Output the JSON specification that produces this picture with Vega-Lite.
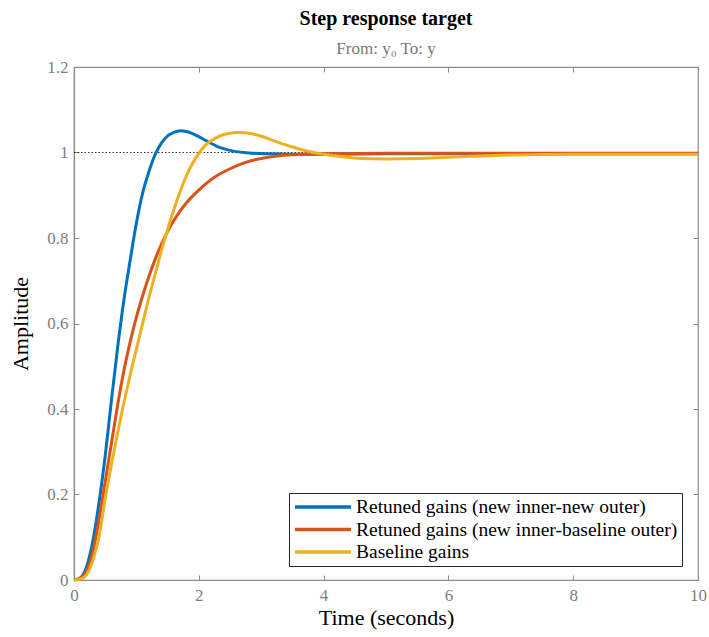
{
  "$schema": "https://vega.github.io/schema/vega-lite/v6.json",
  "width": 624,
  "height": 513,
  "autosize": "none",
  "padding": {"left": 74, "top": 67, "right": 11, "bottom": 57},
  "background": "white",
  "title": {
    "text": "Step response target",
    "subtitle": "From: y₀ To: y",
    "anchor": "middle",
    "font": "Liberation Serif",
    "fontSize": 20,
    "fontWeight": "bold",
    "color": "#000000",
    "subtitleFont": "Liberation Serif",
    "subtitleFontSize": 17,
    "subtitleColor": "#7a7a7a",
    "subtitlePadding": 12,
    "offset": 1
  },
  "config": {
    "view": {"stroke": "#8c8c8c", "strokeWidth": 1.2},
    "axis": {
      "labelFont": "Liberation Serif",
      "labelFontSize": 17,
      "labelColor": "#808080",
      "titleFont": "Liberation Serif",
      "titleFontSize": 22,
      "titleFontWeight": "normal",
      "titleColor": "#000000",
      "domainColor": "#8c8c8c",
      "domainWidth": 1.2,
      "tickColor": "#8c8c8c",
      "gridColor": "#e3e3e3",
      "gridWidth": 1
    }
  },
  "datasets": {
    "steps": [
      {"series": "Retuned gains (new inner-new outer)", "t": 0, "y": 0},
      {"series": "Retuned gains (new inner-new outer)", "t": 0.1, "y": 0.005},
      {"series": "Retuned gains (new inner-new outer)", "t": 0.2, "y": 0.03},
      {"series": "Retuned gains (new inner-new outer)", "t": 0.3, "y": 0.09},
      {"series": "Retuned gains (new inner-new outer)", "t": 0.4, "y": 0.18},
      {"series": "Retuned gains (new inner-new outer)", "t": 0.5, "y": 0.29},
      {"series": "Retuned gains (new inner-new outer)", "t": 0.6, "y": 0.42},
      {"series": "Retuned gains (new inner-new outer)", "t": 0.7, "y": 0.545},
      {"series": "Retuned gains (new inner-new outer)", "t": 0.8, "y": 0.655},
      {"series": "Retuned gains (new inner-new outer)", "t": 0.9, "y": 0.748},
      {"series": "Retuned gains (new inner-new outer)", "t": 1.0, "y": 0.835},
      {"series": "Retuned gains (new inner-new outer)", "t": 1.1, "y": 0.905},
      {"series": "Retuned gains (new inner-new outer)", "t": 1.2, "y": 0.955},
      {"series": "Retuned gains (new inner-new outer)", "t": 1.3, "y": 0.995},
      {"series": "Retuned gains (new inner-new outer)", "t": 1.4, "y": 1.022},
      {"series": "Retuned gains (new inner-new outer)", "t": 1.5, "y": 1.039},
      {"series": "Retuned gains (new inner-new outer)", "t": 1.6, "y": 1.047},
      {"series": "Retuned gains (new inner-new outer)", "t": 1.7, "y": 1.051},
      {"series": "Retuned gains (new inner-new outer)", "t": 1.8, "y": 1.049},
      {"series": "Retuned gains (new inner-new outer)", "t": 1.9, "y": 1.044},
      {"series": "Retuned gains (new inner-new outer)", "t": 2.0, "y": 1.037},
      {"series": "Retuned gains (new inner-new outer)", "t": 2.1, "y": 1.029},
      {"series": "Retuned gains (new inner-new outer)", "t": 2.2, "y": 1.021},
      {"series": "Retuned gains (new inner-new outer)", "t": 2.3, "y": 1.014},
      {"series": "Retuned gains (new inner-new outer)", "t": 2.4, "y": 1.009},
      {"series": "Retuned gains (new inner-new outer)", "t": 2.5, "y": 1.005},
      {"series": "Retuned gains (new inner-new outer)", "t": 2.6, "y": 1.002},
      {"series": "Retuned gains (new inner-new outer)", "t": 2.8, "y": 0.999},
      {"series": "Retuned gains (new inner-new outer)", "t": 3.1, "y": 0.997},
      {"series": "Retuned gains (new inner-new outer)", "t": 3.5, "y": 0.996},
      {"series": "Retuned gains (new inner-new outer)", "t": 4.0, "y": 0.996},
      {"series": "Retuned gains (new inner-new outer)", "t": 5.0, "y": 0.997},
      {"series": "Retuned gains (new inner-new outer)", "t": 6.0, "y": 0.997},
      {"series": "Retuned gains (new inner-new outer)", "t": 8.0, "y": 0.997},
      {"series": "Retuned gains (new inner-new outer)", "t": 10.0, "y": 0.997},
      {"series": "Retuned gains (new inner-baseline outer)", "t": 0, "y": 0},
      {"series": "Retuned gains (new inner-baseline outer)", "t": 0.1, "y": 0.004},
      {"series": "Retuned gains (new inner-baseline outer)", "t": 0.2, "y": 0.02},
      {"series": "Retuned gains (new inner-baseline outer)", "t": 0.3, "y": 0.065},
      {"series": "Retuned gains (new inner-baseline outer)", "t": 0.4, "y": 0.14},
      {"series": "Retuned gains (new inner-baseline outer)", "t": 0.5, "y": 0.23},
      {"series": "Retuned gains (new inner-baseline outer)", "t": 0.6, "y": 0.32},
      {"series": "Retuned gains (new inner-baseline outer)", "t": 0.7, "y": 0.41},
      {"series": "Retuned gains (new inner-baseline outer)", "t": 0.8, "y": 0.49},
      {"series": "Retuned gains (new inner-baseline outer)", "t": 0.9, "y": 0.557},
      {"series": "Retuned gains (new inner-baseline outer)", "t": 1.0, "y": 0.615},
      {"series": "Retuned gains (new inner-baseline outer)", "t": 1.1, "y": 0.665},
      {"series": "Retuned gains (new inner-baseline outer)", "t": 1.2, "y": 0.71},
      {"series": "Retuned gains (new inner-baseline outer)", "t": 1.3, "y": 0.75},
      {"series": "Retuned gains (new inner-baseline outer)", "t": 1.4, "y": 0.785},
      {"series": "Retuned gains (new inner-baseline outer)", "t": 1.5, "y": 0.815},
      {"series": "Retuned gains (new inner-baseline outer)", "t": 1.6, "y": 0.841},
      {"series": "Retuned gains (new inner-baseline outer)", "t": 1.7, "y": 0.863},
      {"series": "Retuned gains (new inner-baseline outer)", "t": 1.8, "y": 0.882},
      {"series": "Retuned gains (new inner-baseline outer)", "t": 1.9, "y": 0.898},
      {"series": "Retuned gains (new inner-baseline outer)", "t": 2.0, "y": 0.912},
      {"series": "Retuned gains (new inner-baseline outer)", "t": 2.25, "y": 0.942},
      {"series": "Retuned gains (new inner-baseline outer)", "t": 2.5, "y": 0.962},
      {"series": "Retuned gains (new inner-baseline outer)", "t": 2.75, "y": 0.977},
      {"series": "Retuned gains (new inner-baseline outer)", "t": 3.0, "y": 0.986},
      {"series": "Retuned gains (new inner-baseline outer)", "t": 3.25, "y": 0.992},
      {"series": "Retuned gains (new inner-baseline outer)", "t": 3.5, "y": 0.995},
      {"series": "Retuned gains (new inner-baseline outer)", "t": 4.0, "y": 0.997},
      {"series": "Retuned gains (new inner-baseline outer)", "t": 5.0, "y": 0.998},
      {"series": "Retuned gains (new inner-baseline outer)", "t": 7.0, "y": 0.998},
      {"series": "Retuned gains (new inner-baseline outer)", "t": 10.0, "y": 0.998},
      {"series": "Baseline gains", "t": 0, "y": 0},
      {"series": "Baseline gains", "t": 0.1, "y": 0.002},
      {"series": "Baseline gains", "t": 0.2, "y": 0.012},
      {"series": "Baseline gains", "t": 0.3, "y": 0.045},
      {"series": "Baseline gains", "t": 0.4, "y": 0.1},
      {"series": "Baseline gains", "t": 0.5, "y": 0.19},
      {"series": "Baseline gains", "t": 0.6, "y": 0.27},
      {"series": "Baseline gains", "t": 0.7, "y": 0.345},
      {"series": "Baseline gains", "t": 0.8, "y": 0.415},
      {"series": "Baseline gains", "t": 0.9, "y": 0.48},
      {"series": "Baseline gains", "t": 1.0, "y": 0.54},
      {"series": "Baseline gains", "t": 1.1, "y": 0.6},
      {"series": "Baseline gains", "t": 1.2, "y": 0.66},
      {"series": "Baseline gains", "t": 1.3, "y": 0.715},
      {"series": "Baseline gains", "t": 1.4, "y": 0.77},
      {"series": "Baseline gains", "t": 1.5, "y": 0.82},
      {"series": "Baseline gains", "t": 1.6, "y": 0.866},
      {"series": "Baseline gains", "t": 1.7, "y": 0.908},
      {"series": "Baseline gains", "t": 1.8, "y": 0.945},
      {"series": "Baseline gains", "t": 1.9, "y": 0.975},
      {"series": "Baseline gains", "t": 2.0, "y": 0.998},
      {"series": "Baseline gains", "t": 2.1, "y": 1.016},
      {"series": "Baseline gains", "t": 2.2, "y": 1.028},
      {"series": "Baseline gains", "t": 2.3, "y": 1.036},
      {"series": "Baseline gains", "t": 2.4, "y": 1.042},
      {"series": "Baseline gains", "t": 2.5, "y": 1.045},
      {"series": "Baseline gains", "t": 2.6, "y": 1.047},
      {"series": "Baseline gains", "t": 2.7, "y": 1.047},
      {"series": "Baseline gains", "t": 2.8, "y": 1.045},
      {"series": "Baseline gains", "t": 2.9, "y": 1.042},
      {"series": "Baseline gains", "t": 3.0, "y": 1.038},
      {"series": "Baseline gains", "t": 3.25, "y": 1.025},
      {"series": "Baseline gains", "t": 3.5, "y": 1.013},
      {"series": "Baseline gains", "t": 3.75, "y": 1.003},
      {"series": "Baseline gains", "t": 4.0, "y": 0.996},
      {"series": "Baseline gains", "t": 4.3, "y": 0.99},
      {"series": "Baseline gains", "t": 4.6, "y": 0.986},
      {"series": "Baseline gains", "t": 5.0, "y": 0.985},
      {"series": "Baseline gains", "t": 5.5, "y": 0.986},
      {"series": "Baseline gains", "t": 6.0, "y": 0.989},
      {"series": "Baseline gains", "t": 6.5, "y": 0.992},
      {"series": "Baseline gains", "t": 7.0, "y": 0.994},
      {"series": "Baseline gains", "t": 8.0, "y": 0.996},
      {"series": "Baseline gains", "t": 9.0, "y": 0.996},
      {"series": "Baseline gains", "t": 10.0, "y": 0.996}
    ],
    "steady": [{"t0": 0, "t1": 10, "y": 1}],
    "frame": [{"t": 0, "y": 0}, {"t": 10, "y": 1.2}]
  },
  "resolve": {"axis": {"x": "independent", "y": "independent"}},
  "layer": [
    {
      "data": {"name": "frame"},
      "mark": {"type": "point", "opacity": 0},
      "encoding": {
        "x": {"field": "t", "type": "quantitative", "scale": {"domain": [0, 10], "nice": false},
          "axis": {"orient": "top", "labels": false, "title": null, "grid": false, "domain": false, "tickSize": -5, "values": [0, 2, 4, 6, 8, 10]}},
        "y": {"field": "y", "type": "quantitative", "scale": {"domain": [0, 1.2], "nice": false},
          "axis": {"orient": "right", "labels": false, "title": null, "grid": false, "domain": false, "tickSize": -5, "values": [0, 0.2, 0.4, 0.6, 0.8, 1, 1.2]}}
      }
    },
    {
      "data": {"name": "steady"},
      "mark": {"type": "rule", "color": "#000000", "strokeWidth": 0.8, "strokeDash": [1.5, 2]},
      "encoding": {
        "x": {"field": "t0", "type": "quantitative", "scale": {"domain": [0, 10], "nice": false},
          "axis": {"orient": "bottom", "title": "Time (seconds)", "tickSize": -5, "labelPadding": 12, "values": [0, 2, 4, 6, 8, 10], "format": "~f", "titlePadding": 4, "labelFlush": false}},
        "x2": {"field": "t1"},
        "y": {"field": "y", "type": "quantitative", "scale": {"domain": [0, 1.2], "nice": false},
          "axis": {"orient": "left", "title": "Amplitude", "tickSize": -5, "labelPadding": 11, "values": [0, 0.2, 0.4, 0.6, 0.8, 1, 1.2], "format": "~f", "titlePadding": 14, "labelFlush": false}}
      }
    },
    {
      "data": {"name": "steps"},
      "mark": {"type": "line", "strokeWidth": 3, "interpolate": "monotone"},
      "encoding": {
        "x": {"field": "t", "type": "quantitative", "scale": {"domain": [0, 10], "nice": false}, "axis": null},
        "y": {"field": "y", "type": "quantitative", "scale": {"domain": [0, 1.2], "nice": false}, "axis": null},
        "color": {
          "field": "series", "type": "nominal",
          "scale": {
            "domain": ["Retuned gains (new inner-new outer)", "Retuned gains (new inner-baseline outer)", "Baseline gains"],
            "range": ["#0072BD", "#D95319", "#EDB120"]
          },
          "legend": {
            "title": null,
            "orient": "none",
            "legendX": 215,
            "legendY": 426,
            "symbolType": "stroke",
            "symbolSize": 3136,
            "symbolStrokeWidth": 3.5,
            "clipHeight": 20,
            "labelFont": "Liberation Serif",
            "labelFontSize": 19.5,
            "labelColor": "#000000",
            "labelLimit": 500,
            "rowPadding": 2.5,
            "padding": 4,
            "strokeColor": "#262626",
            "fillColor": "#ffffff",
            "labelOffset": 3
          }
        }
      }
    }
  ]
}
